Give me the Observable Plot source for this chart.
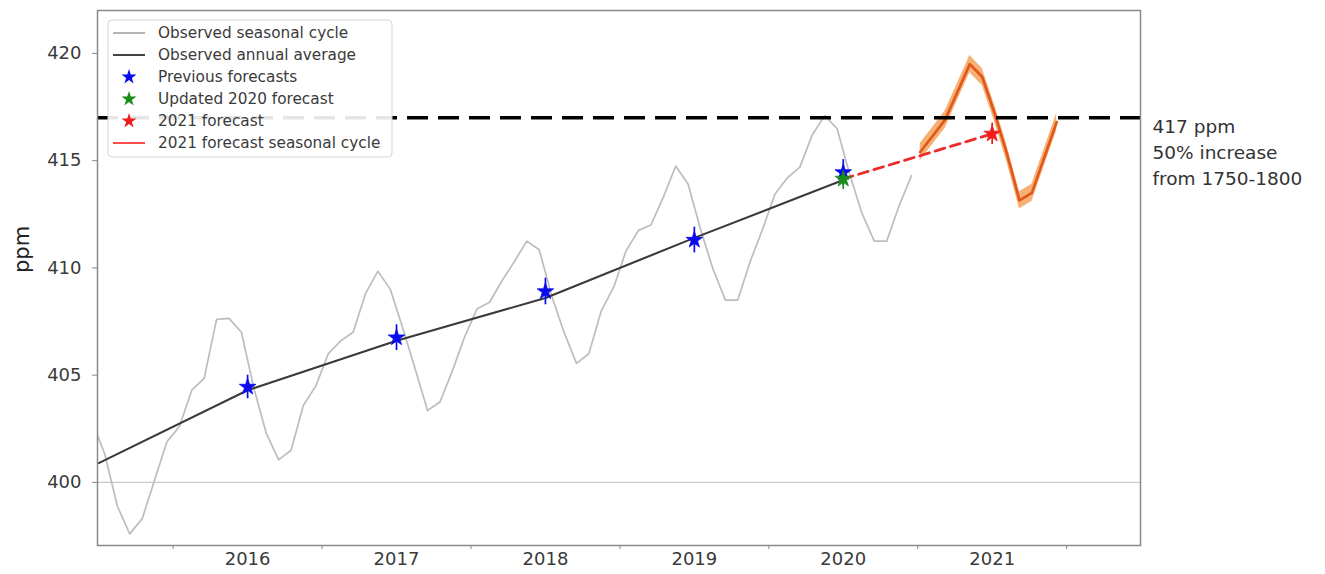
<!DOCTYPE html>
<html>
<head>
<meta charset="utf-8">
<script src="https://cdn.jsdelivr.net/npm/d3@7"></script>
<script src="https://cdn.jsdelivr.net/npm/@observablehq/plot@0.6"></script>
<style>
  html, body { margin: 0; padding: 0; background: #fff; }
  #chart { width: 1325px; height: 574px; }
</style>
</head>
<body>
<div id="chart"></div>
<script>
// ---------------- data ----------------
// Observed monthly CO2 (seasonal cycle), Jun 2015 – Dec 2020
const observedStart = [2015, 6];
const observedValues = [
  402.8, 401.3, 398.9, 397.6, 398.3, 400.1, 401.9,
  402.6, 404.3, 404.85, 407.6, 407.65, 407.0, 404.4, 402.3, 401.05, 401.5, 403.6, 404.5,
  406.0, 406.6, 407.0, 408.8, 409.85, 409.0, 407.2, 405.3, 403.35, 403.75, 405.2, 406.8,
  408.1, 408.4, 409.4, 410.3, 411.25, 410.85, 408.7, 407.0, 405.55, 406.0, 408.0, 409.1,
  410.8, 411.75, 412.0, 413.3, 414.75, 413.9, 411.8, 409.95, 408.5, 408.5, 410.3, 411.8,
  413.45, 414.2, 414.7, 416.2, 417.1, 416.5, 414.4, 412.55, 411.25, 411.25, 412.9, 414.3
];

// Observed annual averages (plotted at mid-year)
const annualYears = [2015, 2016, 2017, 2018, 2019, 2020];
const annualValues = [400.9, 404.3, 406.6, 408.6, 411.4, 414.1];

// Forecasts (annual means) with uncertainty
const forecastYears  = [2016, 2017, 2018, 2019, 2020, 2020, 2021];
const forecastValues = [404.45, 406.75, 408.9, 411.3, 414.45, 414.15, 416.25];
const forecastErrors = [0.55, 0.6, 0.62, 0.6, 0.6, 0.5, 0.5];
const forecastKinds  = ["previous", "previous", "previous", "previous", "previous", "updated", "f2021"];
const kindColors = {previous: "#0a0aee", updated: "#1a8c1a", f2021: "#ee1c1c"};

// 2021 forecast monthly seasonal cycle, Jan – Dec 2021
const cycleYear = 2021;
const cycleValues = [415.4, 416.15, 416.9, 418.2, 419.5, 418.9, 417.2, 415.3, 413.15, 413.5, 415.15, 416.8];
const cycleSpread = 0.4;

// 417 ppm threshold
const thresholdValue = 417;
const annotationLines = ["417 ppm", "50% increase", "from 1750-1800"];

// Axis ticks
const yTicks = [400, 405, 410, 415, 420];
const yearBoundaries = [2016, 2017, 2018, 2019, 2020, 2021, 2022];
const yearLabels = [2016, 2017, 2018, 2019, 2020, 2021];

// Legend
const legendItems = [
  {label: "Observed seasonal cycle", type: "line", color: "#b5b5b5"},
  {label: "Observed annual average", type: "line", color: "#444444"},
  {label: "Previous forecasts", type: "star", color: kindColors.previous},
  {label: "Updated 2020 forecast", type: "star", color: kindColors.updated},
  {label: "2021 forecast", type: "star", color: kindColors.f2021},
  {label: "2021 forecast seasonal cycle", type: "line", color: "#ff4d4d"}
];

// ---------------- derived tables ----------------
const observed = observedValues.map((v, i) => {
  const mi = observedStart[1] - 1 + i;
  const yr = observedStart[0] + Math.floor(mi / 12);
  const m = (mi % 12) + 1;
  return {x: yr + (m - 0.5) / 12, y: v};
});
const annual = annualYears.map((yr, i) => ({x: yr + 0.5, y: annualValues[i]}));
const forecasts = forecastYears.map((yr, i) => ({
  x: yr + 0.5, y: forecastValues[i], err: forecastErrors[i], color: kindColors[forecastKinds[i]]
}));
const cycle = cycleValues.map((v, i) => ({x: cycleYear + (i + 0.2) / 12, y: v}));
const link = forecasts.filter((d, i) => forecastKinds[i] !== "previous");

// ---------------- chart ----------------
const chart = Plot.plot({
  width: 1325,
  height: 574,
  marginLeft: 97,
  marginRight: 185,
  marginTop: 10,
  marginBottom: 29,
  style: {fontFamily: "DejaVu Sans", fontSize: "18px", background: "white", overflow: "visible"},
  x: {domain: [2015.492, 2022.496]},
  y: {domain: [397.06, 422.0]},
  color: {type: "identity"},
  marks: [
    Plot.ruleY([400], {stroke: "#c9c9c9", strokeWidth: 1.3}),
    Plot.line(observed, {x: "x", y: "y", stroke: "#bdbdbd", strokeWidth: 1.7, clip: true}),
    Plot.line(annual, {x: "x", y: "y", stroke: "#3a3a3a", strokeWidth: 2.1, clip: true}),
    Plot.areaY(cycle, {x: "x", y1: d => d.y - cycleSpread, y2: d => d.y + cycleSpread, fill: "#f5a764", fillOpacity: 0.9}),
    Plot.line(cycle, {x: "x", y: "y", stroke: "#e0561b", strokeWidth: 2.6}),
    Plot.ruleY([thresholdValue], {stroke: "black", strokeWidth: 3.6, strokeDasharray: "21,10"}),
    Plot.line(link, {x: "x", y: "y", stroke: "#ee2b2b", strokeWidth: 2.8, strokeDasharray: "10,6"}),
    Plot.ruleX(forecasts, {x: "x", y1: d => d.y - d.err, y2: d => d.y + d.err, stroke: "color", strokeWidth: 1.7}),
    Plot.dot(forecasts, {x: "x", y: "y", symbol: "star", fill: "color", stroke: "color", strokeWidth: 0.8, r: 5.2}),
    Plot.frame({stroke: "#8a8a8a", strokeWidth: 1.5}),
    Plot.axisY({ticks: yTicks, tickSize: 5, tickPadding: 11, label: null, stroke: "#8a8a8a", fill: "#3a3a3a"}),
    Plot.axisX({ticks: yearBoundaries, tickSize: 4, tickFormat: () => "", label: null, stroke: "#8a8a8a"}),
    Plot.axisX({ticks: yearLabels.map(y => y + 0.5), tickSize: 0, tickPadding: 7, tickFormat: d => String(Math.floor(d)), label: null, fill: "#3a3a3a"}),
    Plot.text(["ppm"], {frameAnchor: "left", rotate: -90, dx: -75, dy: -5, fontSize: 21, fill: "#222"}),
    Plot.text([annotationLines.join("\n")], {
      y: [thresholdValue], frameAnchor: "right", dx: 12, dy: -3, textAnchor: "start",
      lineAnchor: "top", lineHeight: 1.4, fontSize: 18.5, fill: "#333", fontFamily: "DejaVu Sans"
    })
  ]
});
document.getElementById("chart").appendChild(chart);

// ---------------- legend (inside plot, upper left) ----------------
const svg = d3.select(chart);
const lg = svg.append("g")
  .attr("font-family", "DejaVu Sans")
  .attr("font-size", 15.3)
  .attr("text-anchor", "start");
lg.append("rect")
  .attr("x", 108).attr("y", 20).attr("width", 284).attr("height", 137)
  .attr("rx", 4).attr("fill", "white").attr("fill-opacity", 0.9)
  .attr("stroke", "#d4d4d4").attr("stroke-width", 1);
legendItems.forEach((item, i) => {
  const cy = 33 + i * 22;
  if (item.type === "line") {
    lg.append("line").attr("x1", 113).attr("x2", 145).attr("y1", cy).attr("y2", cy)
      .attr("stroke", item.color).attr("stroke-width", 2);
  } else {
    lg.append("path").attr("d", d3.symbol(d3.symbolStar, 70)())
      .attr("transform", `translate(129,${cy})`).attr("fill", item.color);
  }
  lg.append("text").attr("x", 158).attr("y", cy).attr("dy", "0.35em")
    .attr("text-anchor", "start")
    .attr("fill", "#3a3a3a").text(item.label);
});
</script>
</body>
</html>
